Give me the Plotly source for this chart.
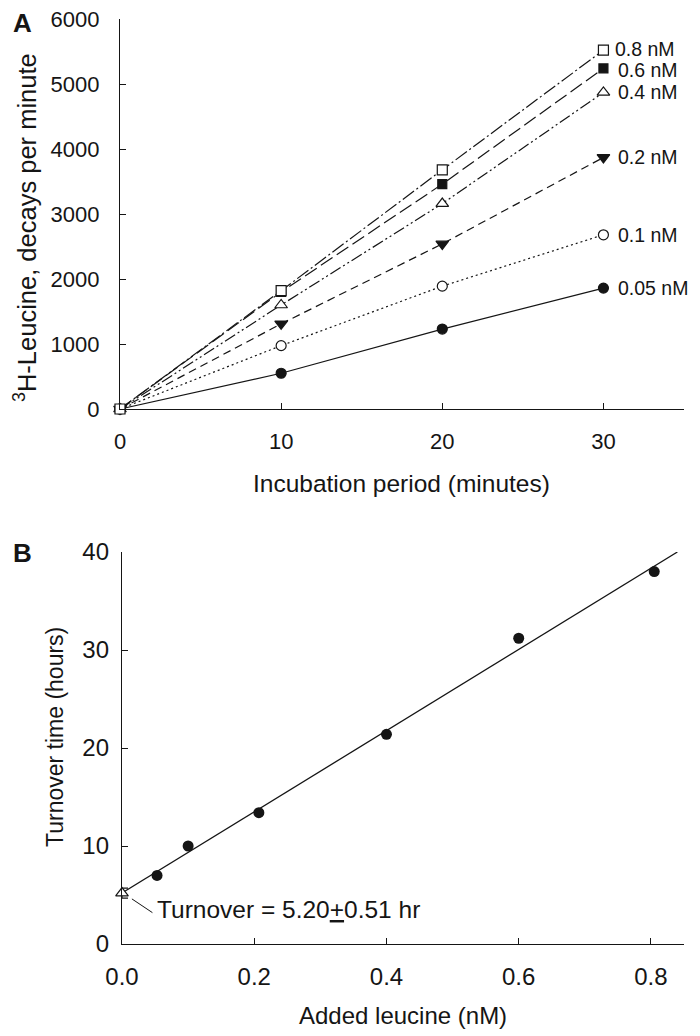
import plotly.graph_objects as go

# ---------------- Panel A data ----------------
time_min = [0, 10, 20, 30]
conc_labels = ["0.05 nM", "0.1 nM", "0.2 nM", "0.4 nM", "0.6 nM", "0.8 nM"]
dpm_005 = [0, 550, 1230, 1860]
dpm_01 = [0, 975, 1890, 2680]
dpm_02 = [0, 1310, 2540, 3870]
dpm_04 = [0, 1600, 3160, 4870]
dpm_06 = [0, 1800, 3460, 5240]
dpm_08 = [0, 1820, 3680, 5520]
a_yticks = [0, 1000, 2000, 3000, 4000, 5000, 6000]
a_xticks = [0, 10, 20, 30]

# ---------------- Panel B data ----------------
added_leucine = [0.053, 0.1, 0.207, 0.4, 0.6, 0.805]
turnover_hours = [7.0, 10.0, 13.4, 21.4, 31.2, 38.0]
fit_x = [0.0, 0.84]
fit_y = [5.2, 40.0]
intercept_x = [0.0]
intercept_y = [5.2]
intercept_err = [0.51]
b_yticks = [0, 10, 20, 30, 40]
b_xticks = [0.0, 0.2, 0.4, 0.6, 0.8]
note_text = "Turnover = 5.20<u>+</u>0.51 hr"
note_x, note_y = 0.05, 3.5

FONT = "Arial, Liberation Sans, Helvetica, sans-serif"
INK = "#151515"
W, H = 700, 1036

fig = go.Figure()

# (values, symbol, fill, dash, marker size, label xshift, label yshift)
series = [
    (dpm_005, "circle", INK, "solid", 10, 13, 0),
    (dpm_01, "circle", "white", "2px,3px", 10, 13, 0),
    (dpm_02, "triangle-down", INK, "8px,5px", 11, 13, 0),
    (dpm_04, "triangle-up", "white", "12px,3px,2px,3px,2px,3px", 11, 13, 0),
    (dpm_06, "square", INK, "14px,5px", 9, 13, -2),
    (dpm_08, "square", "white", "14px,3px,2px,3px", 10, 10, 1),
]
for (vals, sym, fill, dash, msize, xs, ys), lab in zip(series, conc_labels):
    fig.add_trace(go.Scatter(
        x=time_min, y=vals, mode="lines+markers", xaxis="x", yaxis="y",
        line=dict(color=INK, width=1.2, dash=dash),
        marker=dict(symbol=sym, size=msize, color=fill, line=dict(color=INK, width=1.2)),
        cliponaxis=False, showlegend=False, name=lab))
    fig.add_annotation(x=time_min[-1], y=vals[-1], xref="x", yref="y", text=lab,
                       showarrow=False, xanchor="left", yanchor="middle", xshift=xs, yshift=ys,
                       font=dict(family=FONT, size=19.5, color=INK))

# Panel B
fig.add_trace(go.Scatter(x=fit_x, y=fit_y, mode="lines", xaxis="x2", yaxis="y2",
                         line=dict(color=INK, width=1.3), cliponaxis=False, showlegend=False))
fig.add_trace(go.Scatter(x=added_leucine, y=turnover_hours, mode="markers", xaxis="x2", yaxis="y2",
                         marker=dict(symbol="circle", size=11, color=INK), cliponaxis=False,
                         showlegend=False))
fig.add_trace(go.Scatter(x=intercept_x, y=intercept_y, mode="markers", xaxis="x2", yaxis="y2",
                         marker=dict(symbol="triangle-up", size=11, color="white",
                                     line=dict(color=INK, width=1.2)),
                         error_y=dict(type="data", array=intercept_err, color=INK, thickness=1.2, width=6),
                         cliponaxis=False, showlegend=False))
fig.add_annotation(x=note_x, y=note_y, xref="x2", yref="y2", text=note_text, showarrow=False,
                   xanchor="left", yanchor="middle", font=dict(family=FONT, size=24.5, color=INK))
fig.add_shape(type="line", xref="x2", yref="y2",
              x0=intercept_x[0] + 0.015, y0=intercept_y[0] - 0.6,
              x1=note_x - 0.004, y1=note_y - 0.3,
              line=dict(color=INK, width=1))

common_ax = dict(showline=True, linecolor=INK, linewidth=1.3, ticks="inside", ticklen=6,
                 tickcolor=INK, tickwidth=1.3, showgrid=False, zeroline=False,
                 mirror=False, automargin=False)

fig.update_layout(
    template="none",
    width=W, height=H, autosize=False,
    margin=dict(l=0, r=0, t=0, b=0, pad=0),
    paper_bgcolor="white", plot_bgcolor="white",
    showlegend=False,
    xaxis=dict(domain=[120 / W, 684 / W], range=[0, 35], anchor="y",
               tickvals=a_xticks, tickfont=dict(family=FONT, size=22, color=INK),
               ticklabelstandoff=12, **common_ax),
    yaxis=dict(domain=[1 - 409 / H, 1 - 19 / H], range=[0, 6000], anchor="x",
               tickvals=a_yticks, tickfont=dict(family=FONT, size=22, color=INK),
               ticklabelstandoff=15, **common_ax),
    xaxis2=dict(domain=[122 / W, 684 / W], range=[0, 0.85], anchor="y2",
                tickvals=b_xticks, tickformat=".1f", tickfont=dict(family=FONT, size=24, color=INK),
                ticklabelstandoff=11, **common_ax),
    yaxis2=dict(domain=[1 - 944 / H, 1 - 552 / H], range=[0, 40], anchor="x2",
                tickvals=b_yticks, tickfont=dict(family=FONT, size=24, color=INK),
                ticklabelstandoff=7, **common_ax),
)

# axis titles and panel letters
texts = [
    ("<sup>3</sup>H-Leucine, decays per minute", 25, 228, -90, 25.5, False),
    ("Incubation period (minutes)", 401, 483, 0, 24.5, False),
    ("Turnover time (hours)", 55, 737, -90, 23, False),
    ("Added leucine (nM)", 403, 1015, 0, 24, False),
    ("A", 22, 23, 0, 26, True),
    ("B", 22, 553, 0, 26, True),
]
for t, px, py, ang, fs, bold in texts:
    fig.add_annotation(x=px / W, y=1 - py / H, xref="paper", yref="paper",
                       text=f"<b>{t}</b>" if bold else t, textangle=ang, showarrow=False,
                       xanchor="center", yanchor="middle",
                       font=dict(family=FONT, size=fs, color=INK))

fig.write_html("out.html", config={"displayModeBar": False},
               post_script="document.body.style.margin='0';document.body.style.overflow='hidden';")
